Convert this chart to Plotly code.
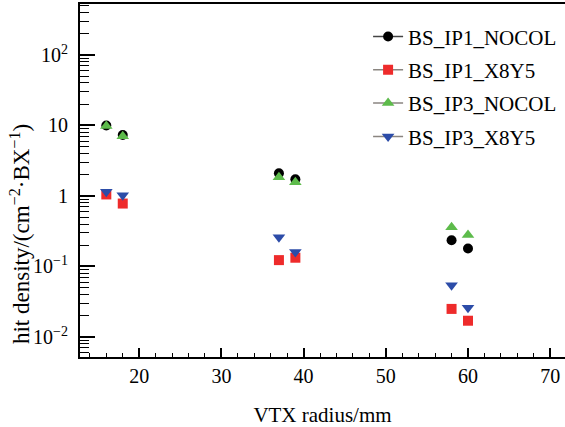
import plotly.graph_objects as go

radius = [16, 18, 37, 39, 58, 60]
ip1_nocol = [10.0, 7.3, 2.1, 1.72, 0.235, 0.18]
ip1_x8y5 = [1.05, 0.78, 0.123, 0.133, 0.025, 0.017]
ip3_nocol = [9.8, 7.0, 1.84, 1.56, 0.36, 0.28]
ip3_x8y5 = [1.15, 1.02, 0.26, 0.16, 0.054, 0.026]

names = ["BS_IP1_NOCOL", "BS_IP1_X8Y5", "BS_IP3_NOCOL", "BS_IP3_X8Y5"]
series = [ip1_nocol, ip1_x8y5, ip3_nocol, ip3_x8y5]
colors = ["#000000", "#EE2B2B", "#5DBB4B", "#2C4CA8"]
symbols = ["circle", "square", "triangle-up", "triangle-down"]
sizes = [10, 10, 11, 11]
legend_line = ["#444444", "#8a8580", "#8a8580", "#8a8580"]

ytick_vals = [0.01, 0.1, 1, 10, 100]
ytick_text = ["10<sup>−2</sup>", "10<sup>−1</sup>", "1", "10", "10<sup>2</sup>"]

FONT = "Liberation Serif, Times New Roman, serif"

fig = go.Figure()
order = [0, 2, 1, 3]
for i in order:
    fig.add_trace(go.Scatter(
        x=radius, y=series[i], mode="markers", showlegend=False,
        marker=dict(symbol=symbols[i], color=colors[i], size=sizes[i], line=dict(width=0)),
    ))
for i in range(4):
    fig.add_trace(go.Scatter(
        x=[None], y=[None], mode="lines+markers", name=names[i], legendgroup=f"g{i}",
        line=dict(color=legend_line[i], width=1.5),
        marker=dict(symbol=symbols[i], color=colors[i], size=sizes[i], line=dict(width=0)),
    ))

minor_vals = [m * 10 ** e for e in range(-3, 3) for m in range(2, 10)]

fig.update_layout(
    width=565, height=427,
    margin=dict(l=80, r=0, t=4, b=70),
    plot_bgcolor="white", paper_bgcolor="white",
    font=dict(family=FONT, size=20, color="black"),
    showlegend=True,
    legend=dict(x=0.594, y=0.965, xanchor="left", yanchor="top",
                bgcolor="rgba(0,0,0,0)", font=dict(size=21, family=FONT),
                itemwidth=30, traceorder="grouped", tracegroupgap=3),
    xaxis=dict(
        range=[12.8, 71.8], showline=True, linecolor="black", linewidth=1.5,
        mirror=True, ticks="inside", ticklen=9, tickwidth=1.5, tickcolor="black",
        dtick=10, tick0=0, showgrid=False, zeroline=False,
        minor=dict(ticks="inside", ticklen=4, tickwidth=1.2, tickcolor="black", dtick=2, tick0=0, showgrid=False),
        title=dict(text="VTX radius/mm", font=dict(size=21, family=FONT), standoff=24),
        tickfont=dict(size=20, family=FONT),
    ),
    yaxis=dict(
        type="log", range=[-2.284, 2.722], showline=True, linecolor="black", linewidth=2,
        ticks="inside", ticklen=15, tickwidth=1.5, tickcolor="black",
        tickmode="array", tickvals=ytick_vals, ticktext=ytick_text,
        showgrid=False, zeroline=False, ticklabelstandoff=6,
        minor=dict(ticks="inside", ticklen=9, tickwidth=1.2, tickcolor="black",
                   tickmode="array", tickvals=minor_vals, showgrid=False),
        tickfont=dict(size=20, family=FONT),
    ),
    annotations=[dict(
        text="hit density/(cm<sup>−2</sup>·BX<sup>−1</sup>)", textangle=-90,
        xref="paper", yref="paper", x=-0.124, y=0.348, xanchor="center", yanchor="middle",
        showarrow=False, font=dict(size=23, family=FONT),
    )],
)

fig.write_html("out.html", config={"displayModeBar": False},
               post_script="document.body.style.margin='0';")
